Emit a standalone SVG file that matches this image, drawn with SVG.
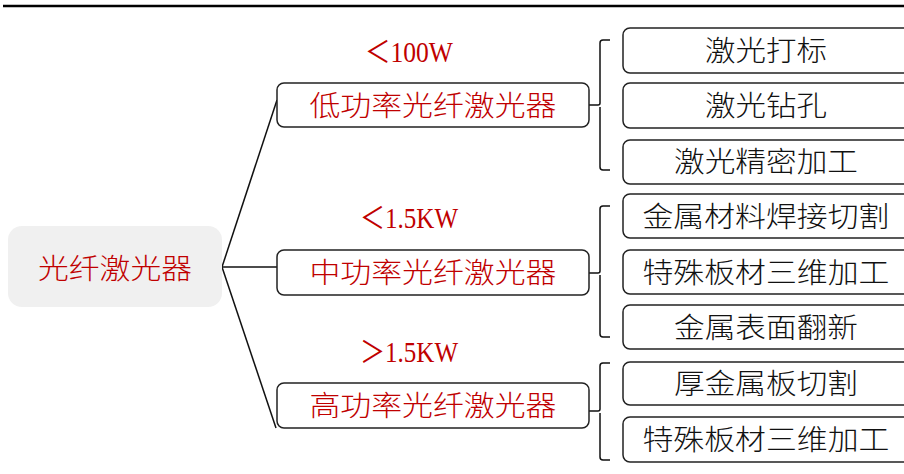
<svg xmlns="http://www.w3.org/2000/svg" width="904" height="474" viewBox="0 0 904 474">
<style>
.bg{fill:#ffffff}
.root{fill:#f0f0f0}
.box{fill:#ffffff;stroke:#222;stroke-width:1.5}
.red{fill:#c00000}
.blk{fill:#111}
.cjk{font-family:"Noto Sans CJK SC",sans-serif;font-size:28px;font-weight:300;text-anchor:middle;dominant-baseline:central}
.num{font-family:"Liberation Serif","Noto Sans CJK SC",serif;font-size:30px;fill:#c00000}
.line{fill:none;stroke:#111;stroke-width:1.5}
</style>
<rect class="bg" x="0" y="0" width="904" height="474"/>
<line x1="3" y1="6" x2="904" y2="6" stroke="#000" stroke-width="2.5"/>
<g id="connectors">
<path class="line" d="M222,267 L277,100"/>
<path class="line" d="M222,267 L277,267"/>
<path class="line" d="M222,267 L276,428"/>
<path class="line" d="M589,105 L598,105 Q600,105 600,103 L600,43 Q600,40 603,40 L610,40 M600,107 L600,167 Q600,170 603,170 L610,170"/>
<path class="line" d="M589,273 L598,273 Q600,273 600,271 L600,209 Q600,206 603,206 L610,206 M600,275 L600,334 Q600,337 603,337 L610,337"/>
<path class="line" d="M589,411 L598,411 Q600,411 600,409 L600,366 Q600,363 603,363 L610,363 M600,413 L600,457 Q600,460 603,460 L610,460"/>
</g>
<g id="root">
<rect class="root" x="8" y="226" width="214" height="81" rx="14"/>
<text class="cjk red" x="115" y="267" textLength="154" lengthAdjust="spacingAndGlyphs">光纤激光器</text>
</g>
<g id="low">
<text class="num" x="365" y="62" textLength="88" lengthAdjust="spacingAndGlyphs">＜100W</text>
<rect class="box" x="277" y="83" width="312" height="44" rx="7"/>
<text class="cjk red" x="433" y="104" textLength="247" lengthAdjust="spacingAndGlyphs">低功率光纤激光器</text>
</g>
<g id="mid">
<text class="num" x="360" y="228" textLength="98" lengthAdjust="spacingAndGlyphs">＜1.5KW</text>
<rect class="box" x="277" y="250" width="312" height="45" rx="7"/>
<text class="cjk red" x="433" y="271" textLength="247" lengthAdjust="spacingAndGlyphs">中功率光纤激光器</text>
</g>
<g id="high">
<text class="num" x="360" y="362" textLength="98" lengthAdjust="spacingAndGlyphs">＞1.5KW</text>
<rect class="box" x="277" y="383" width="312" height="45" rx="7"/>
<text class="cjk red" x="433" y="404" textLength="247" lengthAdjust="spacingAndGlyphs">高功率光纤激光器</text>
</g>
<g id="leaf1">
<rect class="box" x="623" y="28" width="290" height="45" rx="7"/>
<text class="cjk blk" x="766" y="49" textLength="122" lengthAdjust="spacingAndGlyphs">激光打标</text>
</g>
<g id="leaf2">
<rect class="box" x="623" y="83" width="290" height="45" rx="7"/>
<text class="cjk blk" x="766" y="104" textLength="122" lengthAdjust="spacingAndGlyphs">激光钻孔</text>
</g>
<g id="leaf3">
<rect class="box" x="623" y="140" width="290" height="44" rx="7"/>
<text class="cjk blk" x="766" y="160" textLength="184" lengthAdjust="spacingAndGlyphs">激光精密加工</text>
</g>
<g id="leaf4">
<rect class="box" x="623" y="194" width="290" height="44" rx="7"/>
<text class="cjk blk" x="766" y="215" textLength="247" lengthAdjust="spacingAndGlyphs">金属材料焊接切割</text>
</g>
<g id="leaf5">
<rect class="box" x="623" y="250" width="290" height="44" rx="7"/>
<text class="cjk blk" x="766" y="271" textLength="247" lengthAdjust="spacingAndGlyphs">特殊板材三维加工</text>
</g>
<g id="leaf6">
<rect class="box" x="623" y="305" width="290" height="44" rx="7"/>
<text class="cjk blk" x="766" y="326" textLength="184" lengthAdjust="spacingAndGlyphs">金属表面翻新</text>
</g>
<g id="leaf7">
<rect class="box" x="623" y="362" width="290" height="43" rx="7"/>
<text class="cjk blk" x="766" y="382" textLength="184" lengthAdjust="spacingAndGlyphs">厚金属板切割</text>
</g>
<g id="leaf8">
<rect class="box" x="623" y="417" width="290" height="45" rx="7"/>
<text class="cjk blk" x="766" y="438" textLength="247" lengthAdjust="spacingAndGlyphs">特殊板材三维加工</text>
</g>
</svg>
